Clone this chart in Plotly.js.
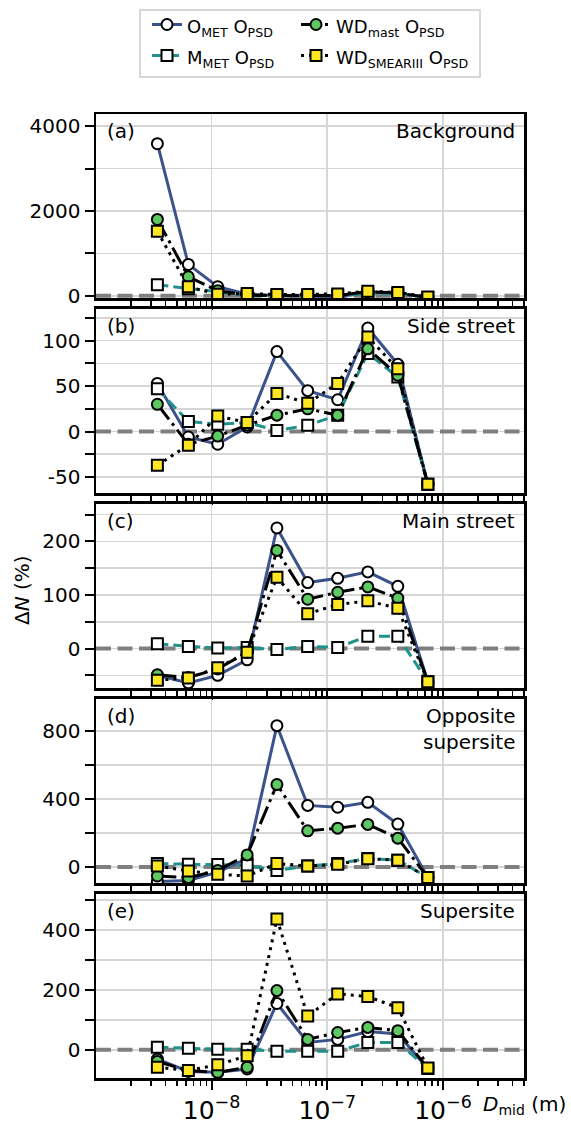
<!DOCTYPE html>
<html><head><meta charset="utf-8">
<script src="https://cdn.plot.ly/plotly-3.0.1.min.js"></script>
<style>body{margin:0;background:#fff}</style>
</head><body><div id="chart" style="width:571px;height:1128px"></div>
<script>
// Mid-point diameters (m)
const dmid = [3.4e-9, 6.3e-9, 1.13e-8, 2.03e-8, 3.67e-8, 6.77e-8, 1.23e-7, 2.24e-7, 4.07e-7, 7.4e-7];

const panelLetters = ['(a)', '(b)', '(c)', '(d)', '(e)'];
const panelNames = ['Background', 'Side street', 'Main street', 'Opposite<br>supersite', 'Supersite'];

const seriesNames = ['O<sub>MET</sub> O<sub>PSD</sub>', 'M<sub>MET</sub> O<sub>PSD</sub>',
                     'WD<sub>mast</sub> O<sub>PSD</sub>', 'WD<sub>SMEARIII</sub> O<sub>PSD</sub>'];

// ΔN (%) per panel: O_MET, M_MET, WD_mast, WD_SMEARIII
const oMet_a   = [3585, 740, 215, 40, 10, 0, -20, 90, 60, -40];
const mMet_a   = [260, 170, 90, 15, 5, 0, 5, 50, 50, -40];
const wdMast_a = [1800, 450, 120, 20, 5, 0, 10, 100, 70, -40];
const wdSmear_a= [1520, 213, 40, 55, 30, 30, 45, 110, 80, -25];

const oMet_b   = [53, -6, -14, 5, 88, 45, 35, 114, 74, -58];
const mMet_b   = [47, 11, 8, 10, 1, 7, 18, 86, 60, -58];
const wdMast_b = [30, -14, -5, 7, 18, 25, 18, 91, 62, -58];
const wdSmear_b= [-37, -15, 17, 10, 42, 31, 53, 104, 69, -58];

const oMet_c   = [-50, -64, -50, -21, 225, 123, 131, 143, 116, -62];
const mMet_c   = [9, 4, 1, 2, -2, 4, 2, 23, 23, -62];
const wdMast_c = [-49, -54, -38, -7, 183, 92, 105, 115, 94, -62];
const wdSmear_c= [-59, -55, -36, -7, 133, 65, 82, 89, 75, -62];

const oMet_d   = [-85, -79, -30, 50, 833, 363, 352, 381, 253, -62];
const mMet_d   = [20, 16, 14, 10, -20, 6, 20, 50, 40, -62];
const wdMast_d = [-53, -63, -20, 71, 486, 213, 229, 251, 170, -62];
const wdSmear_d= [6, -24, -43, -53, 20, 6, 16, 49, 40, -62];

const oMet_e   = [-31, -72, -75, -64, 155, 25, 35, 61, 53, -62];
const mMet_e   = [9, 5, 2, 2, -5, -5, -5, 25, 25, -62];
const wdMast_e = [-39, -69, -75, -58, 198, 35, 58, 75, 64, -62];
const wdSmear_e= [-58, -69, -50, -20, 437, 113, 187, 178, 141, -61];

const panelData = [
  [oMet_a, mMet_a, wdMast_a, wdSmear_a],
  [oMet_b, mMet_b, wdMast_b, wdSmear_b],
  [oMet_c, mMet_c, wdMast_c, wdSmear_c],
  [oMet_d, mMet_d, wdMast_d, wdSmear_d],
  [oMet_e, mMet_e, wdMast_e, wdSmear_e]
];

const xRangeLog = [-8.999, -5.3];
const yRanges = [[-60, 4285], [-68, 135], [-74, 270], [-95, 992], [-94, 522]];
const yTickVals = [[0, 2000, 4000], [-50, 0, 50, 100], [0, 100, 200], [0, 400, 800], [0, 200, 400]];
const yMinor = [1000, 25, 50, 200, 100];

const styles = [
  {line: {color: '#3b528b', width: 3, dash: 'solid'},
   marker: {symbol: 'circle', size: 11, color: '#ffffff', line: {color: '#000', width: 2}}, legend: 'legend'},
  {line: {color: '#21918c', width: 3, dash: '11px,5px'},
   marker: {symbol: 'square', size: 11, color: '#ffffff', line: {color: '#000', width: 2}}, legend: 'legend'},
  {line: {color: '#000000', width: 3, dash: '19px,5px,3px,5px'},
   marker: {symbol: 'circle', size: 11, color: '#5ec962', line: {color: '#000', width: 2}}, legend: 'legend2'},
  {line: {color: '#000000', width: 3, dash: '3px,5px'},
   marker: {symbol: 'square', size: 11, color: '#fde725', line: {color: '#000', width: 2}}, legend: 'legend2'}
];

const FONT = 'DejaVu Sans, sans-serif';
const W = 571, H = 1128;
const mt = 114, mb = 50, ml = 96, mr = 47;
const plotW = W - ml - mr, plotH = H - mt - mb;
const panelH = 184.4, step = 194.9;
const px2x = px => (px - ml) / plotW;
const px2y = py => (H - mb - py) / plotH;

const legendCommon = {
  orientation: 'v', xanchor: 'left', yanchor: 'top', y: px2y(4),
  font: {family: FONT, size: 21.5, color: '#000'},
  bgcolor: 'rgba(0,0,0,0)', borderwidth: 0, traceorder: 'normal', tracegroupgap: 0
};

const traces = [];
const layout = {
  width: W, height: H,
  margin: {t: mt, b: mb, l: ml, r: mr, autoexpand: false},
  paper_bgcolor: '#fff', plot_bgcolor: '#fff',
  font: {family: FONT, size: 20, color: '#000'},
  showlegend: true,
  legend: Object.assign({}, legendCommon, {x: px2x(147)}),
  legend2: Object.assign({}, legendCommon, {x: px2x(296)}),
  annotations: [],
  shapes: [{type: 'rect', xref: 'paper', yref: 'paper', x0: px2x(140), x1: px2x(480),
            y0: px2y(77), y1: px2y(10), fillcolor: '#fff', line: {color: '#cccccc', width: 1.5}, layer: 'below'}]
};

for (let p = 0; p < 5; p++) {
  const sfx = p === 0 ? '' : String(p + 1);
  const topPx = p * step;
  const d1 = 1 - topPx / plotH;
  const d0 = 1 - (topPx + panelH) / plotH;
  layout['xaxis' + sfx] = {
    type: 'log', range: xRangeLog, anchor: 'y' + sfx, matches: p === 0 ? undefined : 'x',
    showline: true, linecolor: '#000', linewidth: 2.5, mirror: true,
    ticks: 'outside', ticklen: 9, tickwidth: 2, tickcolor: '#000', dtick: 1,
    exponentformat: 'power', showticklabels: p === 4,
    tickfont: {family: FONT, size: 20, color: '#000'},
    showgrid: true, gridcolor: '#d6d6d6', gridwidth: 1.6,
    minor: {dtick: 'D1', ticks: 'outside', ticklen: 5, tickwidth: 1.6, tickcolor: '#000', showgrid: false},
    zeroline: false
  };
  layout['yaxis' + sfx] = {
    domain: [d0, d1], range: yRanges[p], anchor: 'x' + sfx,
    showline: true, linecolor: '#000', linewidth: 2.5, mirror: true,
    tickmode: 'array', tickvals: yTickVals[p], ticktext: yTickVals[p].map(v => String(v)),
    ticks: 'outside', ticklen: 9, tickwidth: 2, tickcolor: '#000',
    tickfont: {family: FONT, size: 20, color: '#000'},
    showgrid: true, gridcolor: '#d6d6d6', gridwidth: 1.6, zeroline: false,
    minor: {tickmode: 'linear', tick0: 0, dtick: yMinor[p], ticks: 'outside', ticklen: 9, tickwidth: 2,
            tickcolor: '#000', showgrid: true, gridcolor: '#d6d6d6', gridwidth: 1.6}
  };
  // panel labels
  layout.annotations.push({xref: 'x' + sfx + ' domain', yref: 'y' + sfx + ' domain',
    x: 9 / plotW, y: 1 - 3 / panelH, xanchor: 'left', yanchor: 'top', showarrow: false,
    text: panelLetters[p], font: {family: FONT, size: 20, color: '#000'}});
  layout.annotations.push({xref: 'x' + sfx + ' domain', yref: 'y' + sfx + ' domain',
    x: 1 - 7 / plotW, y: 1 - 3 / panelH, xanchor: 'right', yanchor: 'top', align: 'right', showarrow: false,
    text: panelNames[p], font: {family: FONT, size: 20, color: '#000'}});

  // zero reference line (dashed grey), beneath the data series
  traces.push({
    type: 'scatter', mode: 'lines', x: [Math.pow(10, xRangeLog[0]), Math.pow(10, xRangeLog[1])], y: [0, 0],
    xaxis: 'x' + sfx, yaxis: 'y' + sfx, showlegend: false, hoverinfo: 'skip',
    line: {color: '#7f7f7f', width: 4, dash: '15px,6.5px'}
  });

  for (let s = 0; s < 4; s++) {
    traces.push({
      type: 'scatter', mode: 'lines+markers', x: dmid, y: panelData[p][s],
      xaxis: 'x' + sfx, yaxis: 'y' + sfx,
      name: '<span style="font-size:18px">' + seriesNames[s] + '</span>', legendgroup: 's' + s,
      legend: styles[s].legend, showlegend: p === 0,
      line: styles[s].line, marker: styles[s].marker, cliponaxis: true
    });
  }
}

// axis titles
layout.annotations.push({xref: 'paper', yref: 'paper', x: px2x(22), y: px2y(590),
  xanchor: 'center', yanchor: 'middle', textangle: -90, showarrow: false,
  text: 'Δ<i>N</i> (%)', font: {family: FONT, size: 20, color: '#000'}});
layout.annotations.push({xref: 'paper', yref: 'paper', x: px2x(568), y: px2y(1105),
  xanchor: 'right', yanchor: 'middle', showarrow: false,
  text: '<i>D</i><sub>mid</sub> (m)', font: {family: FONT, size: 20, color: '#000'}});

Plotly.newPlot('chart', traces, layout, {displayModeBar: false, staticPlot: true});
</script></body></html>
